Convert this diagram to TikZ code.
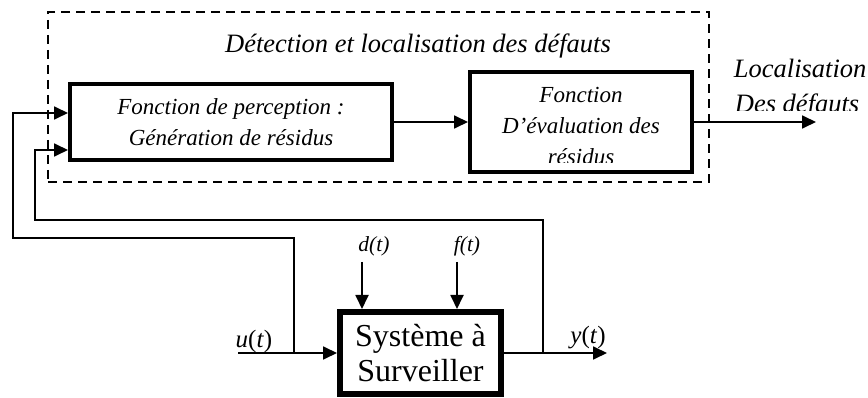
\documentclass[tikz,border=0pt]{standalone}
\usepackage{fontspec}
\setmainfont{Liberation Serif}
\usetikzlibrary{arrows.meta}
\begin{document}
\begin{tikzpicture}[x=1pt,y=-1pt,
  line width=1.8pt,
  arr/.style={-{Triangle[length=14pt,width=13pt]}},
  blk/.style={draw,line width=4pt,inner sep=0pt},
  sysblk/.style={draw,line width=6pt,inner sep=0pt},
  frame/.style={draw,dash pattern=on 9pt off 6pt,line width=2.3pt,inner sep=0pt},
  big/.style={font=\fontsize{26.5}{31}\selectfont\itshape},
  mid/.style={font=\fontsize{23}{31}\selectfont\itshape,align=center},
  small/.style={font=\fontsize{21.5}{25}\selectfont\itshape,inner sep=0pt},
  lab/.style={font=\fontsize{25}{30}\selectfont,inner sep=0pt}]
\useasboundingbox (0,0) rectangle (868,398);

% dashed frame
\node[frame,minimum width=661pt,minimum height=170pt] (zone) at (378.5,97) {};
\node[big,anchor=base,inner sep=0pt] (title) at (418,53) {Détection et localisation des défauts};

% blocks
\node[blk,mid,minimum width=322pt,minimum height=76pt] (perc) at (231,122)
  {Fonction de perception :\\Génération de résidus};
\node[blk,minimum width=222pt,minimum height=100pt] (eval) at (581,122) {};
\begin{scope}
  \clip (470,60) rectangle (692,163);
  \node[mid,inner sep=0pt] (evalt) at (581,126) {Fonction\\D’évaluation des\\résidus};
\end{scope}

\draw[arr] (perc.east) -- (eval.west);

% output
\coordinate (out) at (816,122);
\draw[arr] (eval.east) -- (out);
\node[big,anchor=base west,inner sep=0pt] (loc1) at (733,78) {Localisation};
\begin{scope}
  \clip (720,85) rectangle (868,111);
  \node[big,anchor=base west,inner sep=0pt] (loc2) at (734,113) {Des défauts};
\end{scope}

% system
\node[sysblk,font=\fontsize{32}{35}\selectfont,align=center,minimum width=161pt,minimum height=82pt] (sys) at (420.5,353)
  {Système à\\Surveiller};

% u(t)
\coordinate (ustart) at (238,353);
\draw[arr] (ustart) -- (sys.west);
\node[lab,anchor=base] (ul) at (254,347) {\textit{u}(\textit{t})};
\coordinate (uj) at (294,353);
\coordinate (c1) at (13,238);
\coordinate (i1) at (13,113);
\draw[arr] (uj) |- (c1) -- (i1) -- (perc.west |- i1);

% y(t)
\coordinate (yend) at (607,353);
\draw[arr] (sys.east) -- (yend);
\node[lab,anchor=base] (yl) at (588,343) {\textit{y}(\textit{t})};
\coordinate (yj) at (543,353);
\coordinate (c2) at (35,220);
\coordinate (i2) at (35,150);
\draw[arr] (yj) |- (c2) -- (i2) -- (perc.west |- i2);

% disturbances
\coordinate (ds) at (362,262);
\draw[arr] (ds) -- (sys.north -| ds);
\node[small,anchor=base] (dl) at (374,252) {d(t)};
\coordinate (fs) at (457,262);
\draw[arr] (fs) -- (sys.north -| fs);
\node[small,anchor=base] (fl) at (467,252) {f(t)};
\end{tikzpicture}
\end{document}
